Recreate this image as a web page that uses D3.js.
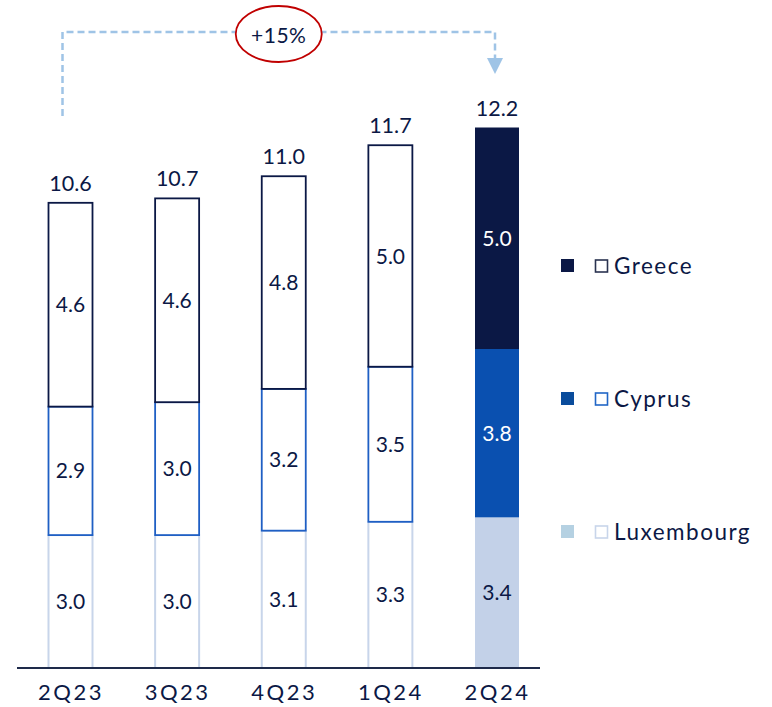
<!DOCTYPE html>
<html>
<head>
<meta charset="utf-8">
<title>Bars by country</title>
<script src="https://cdn.jsdelivr.net/npm/d3@7"></script>
<style>
  body { margin: 0; background: #fff; }
  text { font-family: Lato, "Open Sans", sans-serif; }
</style>
</head>
<body>
<script>
// values
const quarters = ["2Q23", "3Q23", "4Q23", "1Q24", "2Q24"];
const luxembourg = [3.0, 3.0, 3.1, 3.3, 3.4];
const cyprus = [2.9, 3.0, 3.2, 3.5, 3.8];
const greece = [4.6, 4.6, 4.8, 5.0, 5.0];
const totals = [10.6, 10.7, 11.0, 11.7, 12.2];
const countries = ["Luxembourg", "Cyprus", "Greece"];
const growthLabel = "+15%";

const width = 772, height = 707;
const svg = d3.select("body").append("svg").attr("width", width).attr("height", height);

const navy = "#0b1845";
const fillCol = { Greece: "#0b1845", Cyprus: "#0a50b0", Luxembourg: "#c3d1e8" };
const lineCol = { Greece: "#0b1845", Cyprus: "#1f5fc4", Luxembourg: "#c8d5ea" };
const legendFill = { Greece: "#0b1845", Cyprus: "#0a4c9c", Luxembourg: "#b5d1e2" };
const legendLine = { Greece: "#2a3350", Cyprus: "#2166c6", Luxembourg: "#c8d5ea" };

const rows = quarters.map((q, i) => ({ q: q, Luxembourg: luxembourg[i], Cyprus: cyprus[i], Greece: greece[i], total: totals[i] }));
const series = d3.stack().keys(countries)(rows);

const x = d3.scalePoint().domain(quarters).range([70.5, 497]);
const barW = 44;
const y = d3.scaleLinear().domain([0, 12.2]).range([668, 127.5]);
const last = quarters[quarters.length - 1];

// bars: outlined for history, filled for latest quarter
const g = svg.append("g");
series.forEach(s => {
  const key = s.key;
  g.selectAll(null).data(s).enter().append("rect")
    .attr("x", d => x(d.data.q) - barW / 2)
    .attr("y", d => y(d[1]))
    .attr("width", barW)
    .attr("height", d => y(d[0]) - y(d[1]))
    .attr("fill", d => d.data.q === last ? fillCol[key] : "#fff")
    .attr("stroke", d => d.data.q === last ? "none" : lineCol[key])
    .attr("stroke-width", key === "Luxembourg" ? 2 : 1.8);
});

// segment values
series.forEach(s => {
  const key = s.key;
  g.selectAll(null).data(s).enter().append("text")
    .attr("x", d => x(d.data.q))
    .attr("y", d => (y(d[0]) + y(d[1])) / 2)
    .attr("dy", "0.36em")
    .attr("text-anchor", "middle")
    .attr("font-size", 21)
    .attr("fill", d => (d.data.q === last && key !== "Luxembourg") ? "#fff" : navy)
    .text(d => d.data[key].toFixed(1));
});

// totals above the bars
g.selectAll(null).data(rows).enter().append("text")
  .attr("x", d => x(d.q))
  .attr("y", d => y(d.Luxembourg + d.Cyprus + d.Greece) - 12)
  .attr("text-anchor", "middle")
  .attr("font-size", 21.5)
  .attr("fill", navy)
  .text(d => d.total.toFixed(1));

// baseline and category labels
svg.append("line").attr("x1", 17).attr("x2", 540).attr("y1", y(0)).attr("y2", y(0))
  .attr("stroke", "#1e2a4a").attr("stroke-width", 2);
const axis = svg.append("g").attr("transform", `translate(0,${y(0) + 13})`)
  .call(d3.axisBottom(x).tickSize(0));
axis.select(".domain").remove();
axis.selectAll("text").attr("font-size", 22).attr("fill", navy)
  .style("font-family", "Lato, 'Open Sans', sans-serif")
  .style("letter-spacing", "2.5px");

// growth annotation
const ax0 = x(quarters[0]) - 8, ax1 = x(last) - 2, ay = 32;
const ann = svg.append("g");
ann.append("path")
  .attr("d", `M${ax0},116 V${ay} H${ax1} V60`)
  .attr("fill", "none").attr("stroke", "#9fc4e6").attr("stroke-width", 2.5)
  .attr("stroke-dasharray", "7,4");
ann.append("path")
  .attr("d", `M${ax1 - 8},58 L${ax1 + 8},58 L${ax1},74 Z`)
  .attr("fill", "#9fc4e6");
const cx = (x(quarters[1]) + x(quarters[3])) / 2 - 5;
ann.append("ellipse").attr("cx", cx).attr("cy", 34).attr("rx", 43).attr("ry", 28)
  .attr("fill", "#fff").attr("stroke", "#c00000").attr("stroke-width", 1.8);
ann.append("text").attr("x", cx).attr("y", 35).attr("dy", "0.36em")
  .attr("text-anchor", "middle").attr("font-size", 21).attr("fill", navy)
  .style("letter-spacing", "0.5px").text(growthLabel);

// legend
const legendItems = [
  { name: "Greece", yc: 266 },
  { name: "Cyprus", yc: 399 },
  { name: "Luxembourg", yc: 532 }
];
const lg = svg.append("g").selectAll("g").data(legendItems).enter().append("g")
  .attr("transform", d => `translate(0,${d.yc})`);
lg.append("rect").attr("x", 561).attr("y", -7).attr("width", 13).attr("height", 13)
  .attr("fill", d => legendFill[d.name]);
lg.append("rect").attr("x", 595.5).attr("y", -6).attr("width", 12).attr("height", 12)
  .attr("fill", "#fff").attr("stroke", d => legendLine[d.name]).attr("stroke-width", 1.6);
lg.append("text").attr("x", 614).attr("dy", "0.36em").attr("font-size", 22.5).attr("fill", navy)
  .style("letter-spacing", "1.5px")
  .text(d => d.name);
</script>
</body>
</html>
